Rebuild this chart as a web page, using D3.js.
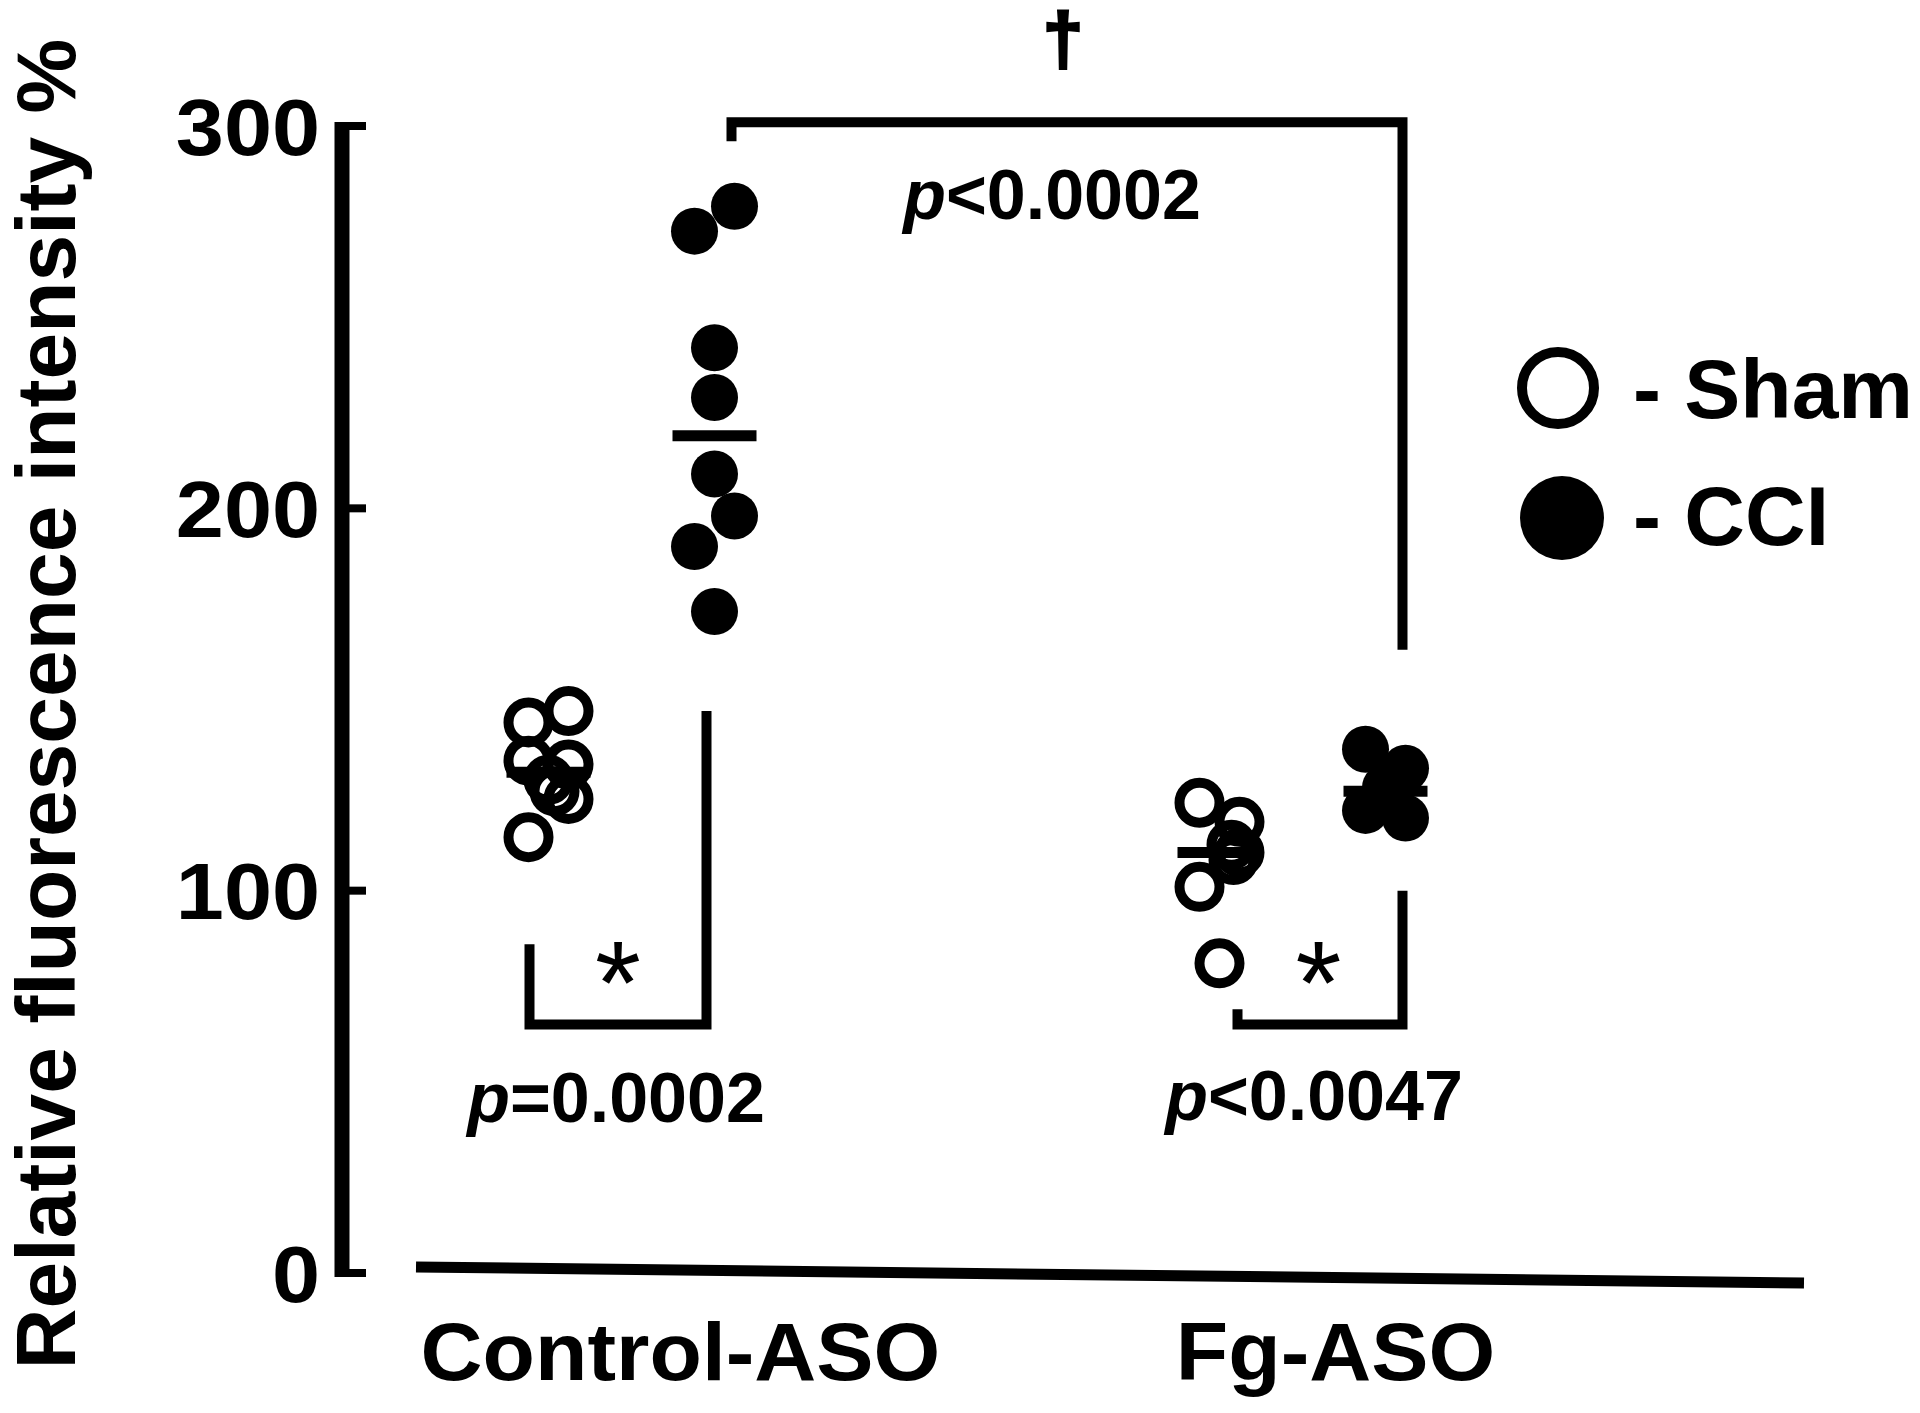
<!DOCTYPE html>
<html>
<head>
<meta charset="utf-8">
<script src="https://cdn.jsdelivr.net/npm/d3@7"></script>
<style>
  body { margin: 0; background: #fff; }
  svg text { font-family: "Liberation Sans", Arial, sans-serif; font-weight: bold; fill: #000; }
</style>
</head>
<body>
<svg id="chart"></svg>
<script>
// data
const categories = ["Control-ASO", "Fg-ASO"];
const categoryLabelShift = [49, 33];
const groups = ["Sham", "CCI"];
const yTicks = [0, 100, 200, 300];

const ctrlSham = [147, 144, 134, 133, 129, 126, 124, 114];
const ctrlShamJitter = [1, -1, -1, 1, 0, 0.3, 1, -1];
const ctrlCCI = [279, 272.5, 242, 229, 209, 198, 190, 173];
const ctrlCCIJitter = [1, -1, 0, 0, 0, 1, -1, 0];
const fgSham = [123, 118, 112, 110, 108, 101, 81];
const fgShamJitter = [-1, 1, 0.6, 1, 0.7, -1, 0];
const fgCCI = [137, 132, 127, 125, 121, 119];
const fgCCIJitter = [-1, 1, 0, 0, -1, 1];

const series = [
  { cat: "Control-ASO", group: "Sham", values: ctrlSham, jitter: ctrlShamJitter },
  { cat: "Control-ASO", group: "CCI", values: ctrlCCI, jitter: ctrlCCIJitter },
  { cat: "Fg-ASO", group: "Sham", values: fgSham, jitter: fgShamJitter },
  { cat: "Fg-ASO", group: "CCI", values: fgCCI, jitter: fgCCIJitter }
];

const width = 1920, height = 1413;
const svg = d3.select("#chart").attr("width", width).attr("height", height);
svg.append("rect").attr("width", width).attr("height", height).attr("fill", "#fff");

const y = d3.scaleLinear().domain([0, 300]).range([1273, 126]);
const x0 = d3.scaleBand().domain(categories).range([296, 1638]);
const x1 = d3.scalePoint().domain(groups).range([-83, 83]);
const xPos = (cat, group) => x0(cat) + x0.bandwidth() / 2 + x1(group);
const jitterStep = 20;

// y axis
const yAxis = svg.append("g").attr("transform", "translate(342,0)");
yAxis.append("line")
  .attr("x1", 0).attr("x2", 0)
  .attr("y1", y(300) - 4).attr("y2", y(0) + 4)
  .attr("stroke", "#000").attr("stroke-width", 15);
yAxis.selectAll(".tick")
  .data(yTicks).enter().append("line")
  .attr("x1", 0).attr("x2", 24)
  .attr("y1", d => y(d)).attr("y2", d => y(d))
  .attr("stroke", "#000").attr("stroke-width", 8);
yAxis.selectAll(".lab")
  .data(yTicks).enter().append("text")
  .attr("transform", d => `translate(-22,${y(d)}) scale(1.08,1)`)
  .attr("dy", "0.36em")
  .attr("text-anchor", "end")
  .style("font-size", "80px")
  .text(d => d);

svg.append("text")
  .attr("transform", "translate(75,704) rotate(-90)")
  .attr("text-anchor", "middle")
  .style("font-size", "84px")
  .text("Relative fluorescence intensity %");

// baseline (slightly tilted as in the original)
svg.append("line")
  .attr("x1", 416).attr("x2", 1804)
  .attr("y1", y(0) - 6).attr("y2", y(0) + 10)
  .attr("stroke", "#000").attr("stroke-width", 11);

svg.selectAll(".xlab")
  .data(categories).enter().append("text")
  .attr("transform", (d, i) => `translate(${x0(d) + x0.bandwidth() / 2 + categoryLabelShift[i]},1380) scale(1.06,1)`)
  .attr("text-anchor", "middle")
  .style("font-size", "81px")
  .text(d => d);

// points
series.forEach(s => {
  const cx = xPos(s.cat, s.group);
  const filled = s.group === "CCI";
  svg.append("g").selectAll("circle")
    .data(s.values).enter().append("circle")
    .attr("cx", (d, i) => cx + s.jitter[i] * jitterStep)
    .attr("cy", d => y(d))
    .attr("r", filled ? 23.5 : 20)
    .attr("fill", filled ? "#000" : "none")
    .attr("stroke", "#000")
    .attr("stroke-width", filled ? 0 : 10);
  const med = d3.median(s.values);
  svg.append("line")
    .attr("x1", cx - 42).attr("x2", cx + 42)
    .attr("y1", y(med)).attr("y2", y(med))
    .attr("stroke", "#000").attr("stroke-width", 11);
});

// significance brackets
const bracket = (pts) => {
  svg.append("path")
    .attr("d", d3.line()(pts))
    .attr("fill", "none").attr("stroke", "#000")
    .attr("stroke-width", 10).attr("stroke-linejoin", "miter");
};
const cS = xPos("Control-ASO", "Sham"), cC = xPos("Control-ASO", "CCI");
const fS = xPos("Fg-ASO", "Sham"), fC = xPos("Fg-ASO", "CCI");

bracket([[cS - 19, y(86)], [cS - 19, y(65)], [cC - 8, y(65)], [cC - 8, y(147)]]);
bracket([[fS + 18, y(69)], [fS + 18, y(65)], [fC + 17, y(65)], [fC + 17, y(100)]]);
bracket([[cC + 17, y(296)], [cC + 17, y(301)], [fC + 17, y(301)], [fC + 17, y(163)]]);

const star = (xc) => svg.append("text")
  .attr("x", xc).attr("y", 1024)
  .attr("text-anchor", "middle")
  .style("font-size", "118px").style("font-weight", "normal")
  .text("*");
star((cS - 19 + cC - 8) / 2);
star((fS + fC) / 2 + 16);

const pText = (xc, yb, rest) => {
  const t = svg.append("text")
    .attr("x", xc).attr("y", yb)
    .attr("text-anchor", "middle")
    .style("font-size", "70px");
  t.append("tspan").style("font-style", "italic").text("p");
  t.append("tspan").text(rest);
};
pText(616, 1122, "=0.0002");
pText(1314, 1120, "<0.0047");
pText(1052, 219, "<0.0002");

svg.append("text")
  .attr("x", 1063).attr("y", 64)
  .attr("text-anchor", "middle")
  .style("font-size", "72px")
  .attr("stroke", "#000").attr("stroke-width", 3)
  .text("\u2020");

// legend
const legend = svg.append("g");
legend.append("circle").attr("cx", 1558).attr("cy", 388).attr("r", 36)
  .attr("fill", "none").attr("stroke", "#000").attr("stroke-width", 10);
legend.append("circle").attr("cx", 1562).attr("cy", 518).attr("r", 42)
  .attr("fill", "#000");
legend.append("text").attr("x", 1633).attr("y", 418)
  .style("font-size", "84px").text("- Sham");
legend.append("text").attr("x", 1633).attr("y", 545)
  .style("font-size", "84px").text("- CCI");
</script>
</body>
</html>
